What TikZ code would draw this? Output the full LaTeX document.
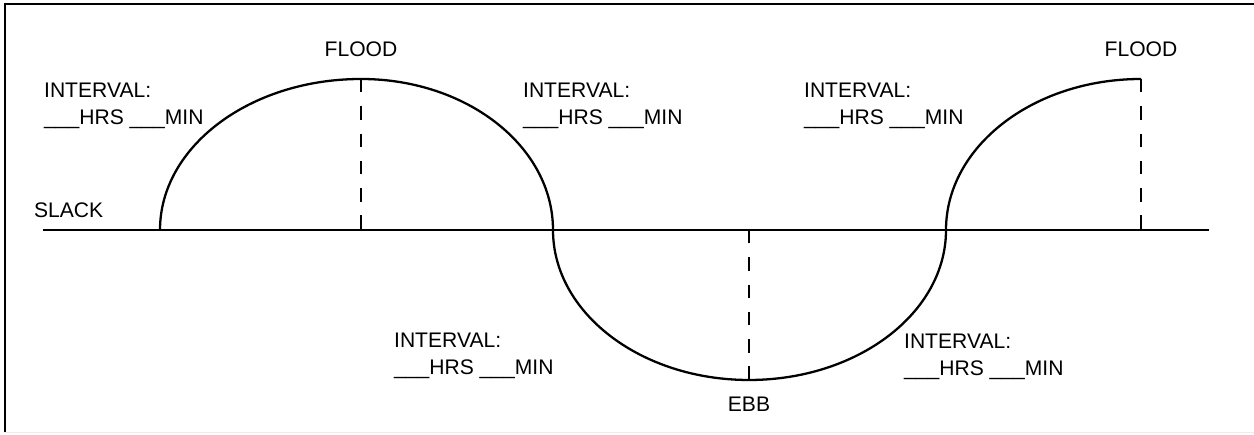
\documentclass[tikz,border=0pt]{standalone}
\usepackage{fontspec}
\setmainfont{Liberation Sans}
\begin{document}
\begin{tikzpicture}[line width=1.3pt, every node/.style={font=\fontsize{12}{15.4}\selectfont, inner sep=0pt},
    interval/.style={anchor=base west, align=left},
    mark line/.style={line width=1.2pt, dash pattern=on 0.27cm off 0.276cm}]
        \useasboundingbox (0,0) rectangle (25.08,8.7);
        % frame
        \draw[gray!15, line width=0.8pt] (0.1,0.05) -- (25.08,0.05);
        \draw[line width=1.2pt] (0.1,0.05) -- (0.1,8.62) -- (25.08,8.62);
        % slack line and tide curve
        \coordinate (sl) at (0.86,4.1);
        \coordinate (sr) at (24.18,4.1);
        \draw[line width=1.5pt] (sl) -- (sr);
        \draw (3.2,4.1) arc[start angle=180, end angle=90, x radius=4.02, y radius=3.02] coordinate (flood1)
            arc[start angle=90, end angle=0, x radius=3.84, y radius=3.02] coordinate (turn1)
            arc[start angle=180, end angle=270, x radius=3.92, y radius=3.0] coordinate (ebb)
            arc[start angle=270, end angle=360, x radius=3.94, y radius=3.0] coordinate (turn2)
            arc[start angle=180, end angle=90, x radius=3.9, y radius=3.02] coordinate (flood2);
        \foreach \p in {flood1, ebb, flood2}
            \draw[mark line] (\p) -- (\p |- sl);
        \node[anchor=base west] (slack) at (0.66,4.34) {SLACK};
        \node[anchor=base] (lflood1) at (flood1 |- 0,7.56) {FLOOD};
        \node[anchor=base] (lflood2) at (flood2 |- 0,7.56) {FLOOD};
        \node[anchor=base] (lebb) at (ebb |- 0,0.46) {EBB};
        % base is the second line
        \foreach \n/\x/\y in {a/0.86/6.2, b/10.44/6.2, c/16.06/6.2, d/7.86/1.2, e/18.06/1.18}
            \node[interval] (int\n) at (\x,\y) {INTERVAL:\\\_\_\_HRS \_\_\_MIN};
    \end{tikzpicture}
\end{document}
